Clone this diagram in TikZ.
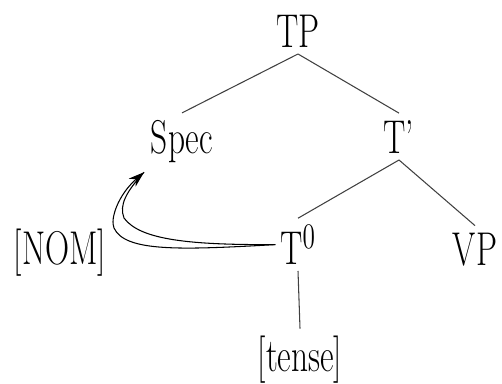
\documentclass[tikz,border=0pt]{standalone}
\usepackage{tikz}
\usetikzlibrary{arrows.meta}
\tikzstyle{arrow} = [line width=0.6pt,-{Stealth[length=9pt,width=6pt]}]
\tikzstyle{branch} = [line width=0.6pt,black!75]
\tikzstyle{cat} = [anchor=base,inner sep=2.6pt,yscale=1.42,font=\fontsize{19}{23}\selectfont]

\begin{document}
\begin{tikzpicture}[x=0.02cm,y=-0.02cm]
\useasboundingbox (0,0) rectangle (502,383);

% --- Tree ---
% level 0
\node[cat] (TP) at (298,47) {TP};

% level 1
\node[cat] (Spec) at (182,153) {Spec};
\node[cat] (Tbar) at (399,153) {T'};

% level 2
\node[cat] (T0) at (298,264) {T$^0$};
\node[cat] (VP) at (475,265) {VP};

% features
\node[cat] (nom) at (60,264) {[NOM]};
\node[cat] (tense) at (300,371) {[tense]};

% connections
\draw[branch] (TP.south) -- (Spec.north);
\draw[branch] (TP.south) -- (Tbar.north);
\draw[branch] (Tbar.south) -- (T0.north);
\draw[branch] (Tbar.south) -- (VP.north);
\draw[branch] (T0.south) -- (tense.north);

% --- Movement ---
\coordinate (tip) at ([shift={(-2,3)}]Spec.south west);
\draw[arrow] (T0.west) .. controls (180,250) and (125,252) .. (114,228)
  .. controls (110,219) and (118,195) .. (tip);
\draw[line width=0.6pt] (T0.west) .. controls (190,245) and (140,240) .. (124,218)
  .. controls (119,205) and (126,192) .. (tip);

\end{tikzpicture}
\end{document}
